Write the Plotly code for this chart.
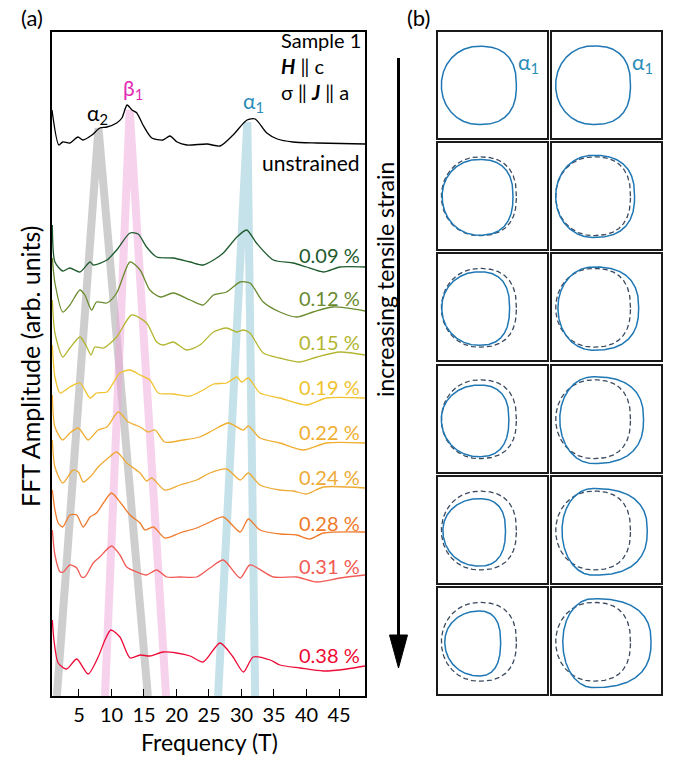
import numpy as np
import plotly.graph_objects as go

W, H = 679, 760
FONT = "Lato"

# ---------------- Panel (a) data: FFT spectra (arb. units, stacked) ----------------
strain_labels = ["unstrained", "0.09 %", "0.12 %", "0.15 %", "0.19 %", "0.22 %", "0.24 %", "0.28 %", "0.31 %", "0.38 %"]
trace_colors = ["#000000", "#1d5a2c", "#6a8a2e", "#b3b530", "#f0c22e", "#f0ae30", "#eeaa35", "#f07a2a", "#f25a55", "#ee0a36"]

f_unstrained = [0.85, 1.9, 2.5, 3.6, 4.85, 5.6, 7.0, 8.2, 9.3, 10.8, 11.6, 12.4, 13.15, 13.9, 14.85, 16.2, 17.9, 19.0, 20.1, 21.6, 24.7, 26.7, 28.7, 30.85, 32.1, 33.9, 35.5, 37.9, 41.6, 49.0]
a_unstrained = [586, 551, 554, 553, 559, 556, 561, 568, 569, 573, 578, 591, 586, 583, 571, 558, 556, 560, 554, 551, 552, 550, 561, 576, 577, 563, 557, 554, 553, 552]

f_009 = [0.9, 1.3, 2.5, 3.6, 5.15, 6.7, 7.2, 9.3, 10.8, 12.85, 14.1, 15.4, 16.95, 19.5, 22.1, 24.1, 25.7, 27.2, 29.3, 30.8, 32.3, 34.9, 37.95, 40.0, 42.6, 45.15, 49.0]
a_009 = [471, 434, 425, 428, 424, 434, 431, 436, 446, 463, 462, 449, 439, 438, 434, 431, 436, 443, 459, 466, 453, 436, 433, 429, 424, 429, 429]

f_012 = [0.9, 1.3, 2.5, 3.6, 5.15, 5.9, 6.95, 7.7, 9.3, 10.8, 12.85, 14.4, 15.9, 17.5, 19.5, 22.1, 24.1, 25.7, 27.7, 29.8, 31.3, 33.35, 35.9, 38.5, 41.0, 44.1, 49.0]
a_012 = [438, 413, 384, 391, 406, 401, 386, 394, 393, 403, 434, 426, 406, 399, 403, 396, 391, 401, 404, 414, 413, 394, 384, 379, 384, 389, 385]

f_015 = [0.9, 1.3, 2.5, 3.6, 5.15, 6.2, 6.85, 7.45, 8.75, 10.8, 13.1, 15.4, 16.95, 18.0, 19.5, 21.55, 23.6, 25.7, 27.7, 29.3, 30.3, 31.3, 33.35, 35.9, 39.0, 41.6, 45.15, 49.0]
a_015 = [396, 363, 339, 348, 359, 349, 341, 349, 348, 359, 381, 373, 354, 351, 354, 346, 351, 364, 368, 364, 366, 363, 343, 338, 334, 339, 344, 341]

f_019 = [0.9, 1.3, 2.1, 3.6, 5.15, 6.7, 7.7, 9.3, 11.3, 12.85, 14.4, 15.9, 17.2, 19.5, 22.1, 24.1, 25.7, 27.7, 29.3, 30.0, 31.05, 32.85, 35.9, 40.0, 43.1, 49.0]
a_019 = [351, 319, 303, 309, 313, 298, 303, 304, 323, 326, 321, 316, 303, 302, 300, 306, 312, 313, 319, 314, 318, 303, 298, 291, 298, 298]

f_022 = [0.9, 1.3, 2.5, 3.6, 4.9, 6.4, 7.95, 9.3, 11.05, 12.6, 14.4, 15.65, 16.7, 18.2, 21.0, 23.6, 25.7, 28.0, 30.3, 31.05, 32.85, 35.9, 39.5, 43.1, 49.0]
a_022 = [301, 269, 256, 263, 268, 256, 266, 269, 284, 274, 269, 264, 266, 254, 256, 259, 266, 273, 266, 270, 258, 253, 246, 253, 253]

f_024 = [0.9, 1.3, 2.5, 4.1, 4.9, 5.65, 6.7, 7.95, 9.5, 10.8, 12.35, 14.4, 15.4, 16.2, 18.2, 20.5, 23.1, 25.15, 27.7, 29.8, 31.05, 32.85, 35.9, 38.0, 40.0, 42.6, 49.0]
a_024 = [256, 229, 213, 226, 224, 214, 219, 229, 238, 244, 233, 223, 215, 218, 206, 211, 216, 223, 227, 216, 223, 211, 206, 205, 202, 209, 208]

f_028 = [0.9, 1.3, 1.8, 2.5, 3.6, 4.65, 5.65, 6.7, 7.7, 8.75, 10.0, 11.3, 12.85, 14.4, 15.15, 16.45, 18.2, 20.5, 23.1, 25.15, 27.2, 29.8, 31.05, 32.85, 35.9, 38.5, 40.5, 42.6, 49.0]
a_028 = [206, 186, 173, 169, 181, 181, 169, 179, 183, 193, 203, 194, 181, 173, 166, 169, 158, 163, 168, 174, 179, 164, 177, 166, 162, 161, 157, 163, 164]

f_031 = [0.9, 1.3, 2.1, 2.6, 3.6, 4.65, 5.4, 5.9, 7.2, 8.2, 10.0, 11.3, 12.35, 13.9, 15.4, 16.95, 18.5, 20.5, 23.1, 25.15, 27.2, 29.8, 31.3, 34.9, 38.5, 41.6, 45.15, 49.0]
a_031 = [166, 141, 124, 124, 131, 128, 119, 119, 133, 139, 150, 141, 129, 124, 121, 126, 119, 119, 119, 128, 136, 118, 131, 119, 119, 114, 118, 121]

f_038 = [0.9, 1.15, 1.8, 3.1, 4.65, 6.4, 7.95, 9.0, 9.9, 11.3, 12.85, 14.4, 15.9, 17.95, 20.0, 22.1, 24.1, 26.7, 28.7, 30.3, 31.8, 34.4, 35.9, 39.0, 42.6, 46.2, 49.0]
a_038 = [76, 56, 33, 27, 37, 22, 39, 56, 66, 59, 38, 41, 40, 44, 43, 40, 34, 53, 39, 24, 39, 36, 31, 28, 25, 27, 30]

freqs = [f_unstrained, f_009, f_012, f_015, f_019, f_022, f_024, f_028, f_031, f_038]
amps = [a_unstrained, a_009, a_012, a_015, a_019, a_022, a_024, a_028, a_031, a_038]
label_amp = [534, 441, 398, 354, 309, 264, 219, 173, 130, 41]   # vertical position of strain labels

# frequency-tracking guide bands (inverted V: left foot, apex, right foot)
band_names = ["α<sub>2</sub>", "β<sub>1</sub>", "α<sub>1</sub>"]
band_apex_f = [8.0, 12.8, 30.9]
band_apex_a = [568, 586, 574]
band_left_f = [1.6, 9.0, 26.4]
band_right_f = [15.6, 18.4, 32.1]
band_colors = ["rgba(165,165,165,0.55)", "rgba(240,165,220,0.5)", "rgba(140,195,212,0.5)"]
band_label_colors = ["#000000", "#e22cb4", "#2a8cb8"]
band_label_pos = [(7.8, 582), (13.3, 607), (31.8, 594)]

xticks = [5, 10, 15, 20, 25, 30, 35, 40, 45]

# ---------------- Panel (b) data: alpha1 orbit extents (units of unstrained radius) ----------------
left_xl = [-1.0, -0.98, -0.99, -1.0, -0.96, -0.91]
left_xr = [1.0, 0.91, 0.82, 0.80, 0.71, 0.58]
left_yt = [1.04, 0.98, 0.96, 0.91, 0.85, 0.82]
left_yb = [-1.05, -1.04, -1.0, -1.0, -0.95, -0.91]
right_xl = [-1.0, -1.0, -0.94, -0.89, -0.83, -0.81]
right_xr = [1.0, 1.11, 1.22, 1.35, 1.45, 1.55]
right_yt = [1.05, 1.09, 1.09, 1.13, 1.12, 1.15]
right_yb = [-1.05, -1.10, -1.13, -1.18, -1.19, -1.22]
ref_ext = (-1.0, 1.0, 1.05, -1.05)


def orbit(xl, xr, yt, yb, n_left=2.05, n_right=2.5):
    th = np.linspace(0, 2 * np.pi, 361)
    c, s = np.cos(th), np.sin(th)
    n = np.where(c >= 0, n_right, n_left)
    xs = np.where(c >= 0, xr, -xl) * np.sign(c) * np.abs(c) ** (2 / n)
    ys = np.where(s >= 0, yt, -yb) * np.sign(s) * np.abs(s) ** (2 / n)
    return xs, ys


fig = go.Figure()

# bands
for i in range(3):
    fig.add_trace(go.Scatter(
        x=[band_left_f[i], band_apex_f[i], band_right_f[i]],
        y=[0, band_apex_a[i], 0],
        mode="lines", line=dict(color=band_colors[i], width=8),
        hoverinfo="skip", showlegend=False, xaxis="x", yaxis="y"))

# spectra
for f, a, col in zip(freqs, amps, trace_colors):
    fig.add_trace(go.Scatter(x=f, y=a, mode="lines",
                             line=dict(color=col, width=1.3, shape="spline", smoothing=0.7),
                             showlegend=False, xaxis="x", yaxis="y"))

annotations = []
for name, col, (fx, ay) in zip(band_names, band_label_colors, band_label_pos):
    annotations.append(dict(x=fx, y=ay, xref="x", yref="y", text=name, showarrow=False,
                            xanchor="center", yanchor="middle",
                            font=dict(family=FONT, size=21, color=col)))

for i, (lab, col, ay) in enumerate(zip(strain_labels, trace_colors, label_amp)):
    annotations.append(dict(x=362 / W, y=ay, xref="paper", yref="y", text=lab, showarrow=False,
                            xanchor="right", yanchor="middle",
                            font=dict(family=FONT, size=21 if i == 0 else 20, color=col)))

annotations.append(dict(x=279 / W, y=1 - 66 / H, xref="paper", yref="paper",
                        text="Sample 1<br><b><i>H</i></b> ‖ c<br>σ ‖ <b><i>J</i></b> ‖ a",
                        showarrow=False, xanchor="left", yanchor="middle", align="left",
                        font=dict(family=FONT, size=20, color="black")))


def centered(text, px, py, size, angle=0):
    return dict(x=px / W, y=1 - py / H, xref="paper", yref="paper", text=text, showarrow=False,
                xanchor="center", yanchor="middle", textangle=angle,
                font=dict(family=FONT, size=size, color="black"))


annotations += [
    centered("(a)", 32, 17, 22),
    centered("(b)", 418, 17, 22),
    centered("Frequency (T)", 209, 742, 23),
    centered("FFT Amplitude (arb. units)", 30, 366, 25, -90),
    centered("increasing tensile strain", 385, 280, 23, -90),
]

layout = dict(
    width=W, height=H, margin=dict(l=0, r=0, t=0, b=0),
    paper_bgcolor="white", plot_bgcolor="white", showlegend=False,
    xaxis=dict(domain=[52 / W, 365 / W], range=[0.85, 49.0], tickvals=xticks,
               ticks="inside", ticklen=7, tickwidth=1.3, tickcolor="black",
               showline=True, linecolor="black", linewidth=1.5, mirror=True,
               showgrid=False, zeroline=False,
               tickfont=dict(family=FONT, size=20, color="black")),
    yaxis=dict(domain=[1 - 696 / H, 1 - 32 / H], range=[0, 664], showticklabels=False,
               ticks="", showline=True, linecolor="black", linewidth=1.5, mirror=True,
               showgrid=False, zeroline=False),
)

# panel (b) boxes
col_dom = [(438 / W, 547 / W), (552.3 / W, 661 / W)]
row_tops = [31.7, 142.7, 254.3, 365.7, 477.0, 588.3]
box_h = 106.0
k = 2
for r in range(6):
    for c in range(2):
        xa, ya = f"xaxis{k}", f"yaxis{k}"
        layout[xa] = dict(domain=list(col_dom[c]), range=[-1.09, 1.817], showticklabels=False,
                          ticks="", showgrid=False, zeroline=False, showline=True,
                          linecolor="#1a1a1a", linewidth=1.6, mirror=True, anchor=f"y{k}")
        layout[ya] = dict(domain=[1 - (row_tops[r] + box_h) / H, 1 - row_tops[r] / H],
                          range=[-1.40, 1.427], showticklabels=False, ticks="", showgrid=False,
                          zeroline=False, showline=True, linecolor="#1a1a1a", linewidth=1.6,
                          mirror=True, anchor=f"x{k}")
        if r > 0:
            rx, ry = orbit(*ref_ext)
            fig.add_trace(go.Scatter(x=rx, y=ry, mode="lines",
                                     line=dict(color="#3b4a5e", width=1.3, dash="5px,3px"),
                                     xaxis=f"x{k}", yaxis=f"y{k}", showlegend=False))
        if c == 0:
            ext = (left_xl[r], left_xr[r], left_yt[r], left_yb[r])
        else:
            ext = (right_xl[r], right_xr[r], right_yt[r], right_yb[r])
        bx, by = orbit(*ext)
        fig.add_trace(go.Scatter(x=bx, y=by, mode="lines", line=dict(color="#1f77b4", width=1.5),
                                 xaxis=f"x{k}", yaxis=f"y{k}", showlegend=False))
        if r == 0:
            annotations.append(dict(x=1.33, y=0.58, xref=f"x{k}", yref=f"y{k}", text="α<sub>1</sub>",
                                    xanchor="center", yanchor="middle", showarrow=False,
                                    font=dict(family=FONT, size=21, color="#2a8cb8")))
        k += 1

layout["annotations"] = annotations
layout["shapes"] = [
    dict(type="line", xref="paper", yref="paper", x0=398.5 / W, x1=398.5 / W,
         y0=1 - 58 / H, y1=1 - 640 / H, line=dict(color="black", width=3)),
    dict(type="path", xref="paper", yref="paper",
         path=f"M {389.5 / W},{1 - 635 / H} L {407.5 / W},{1 - 635 / H} L {398.5 / W},{1 - 668 / H} Z",
         fillcolor="black", line=dict(color="black", width=1)),
]

fig.update_layout(**layout)
fig.write_html("out.html", config={"displayModeBar": False},
               post_script="document.body.style.margin='0px';document.body.style.padding='0px';")
